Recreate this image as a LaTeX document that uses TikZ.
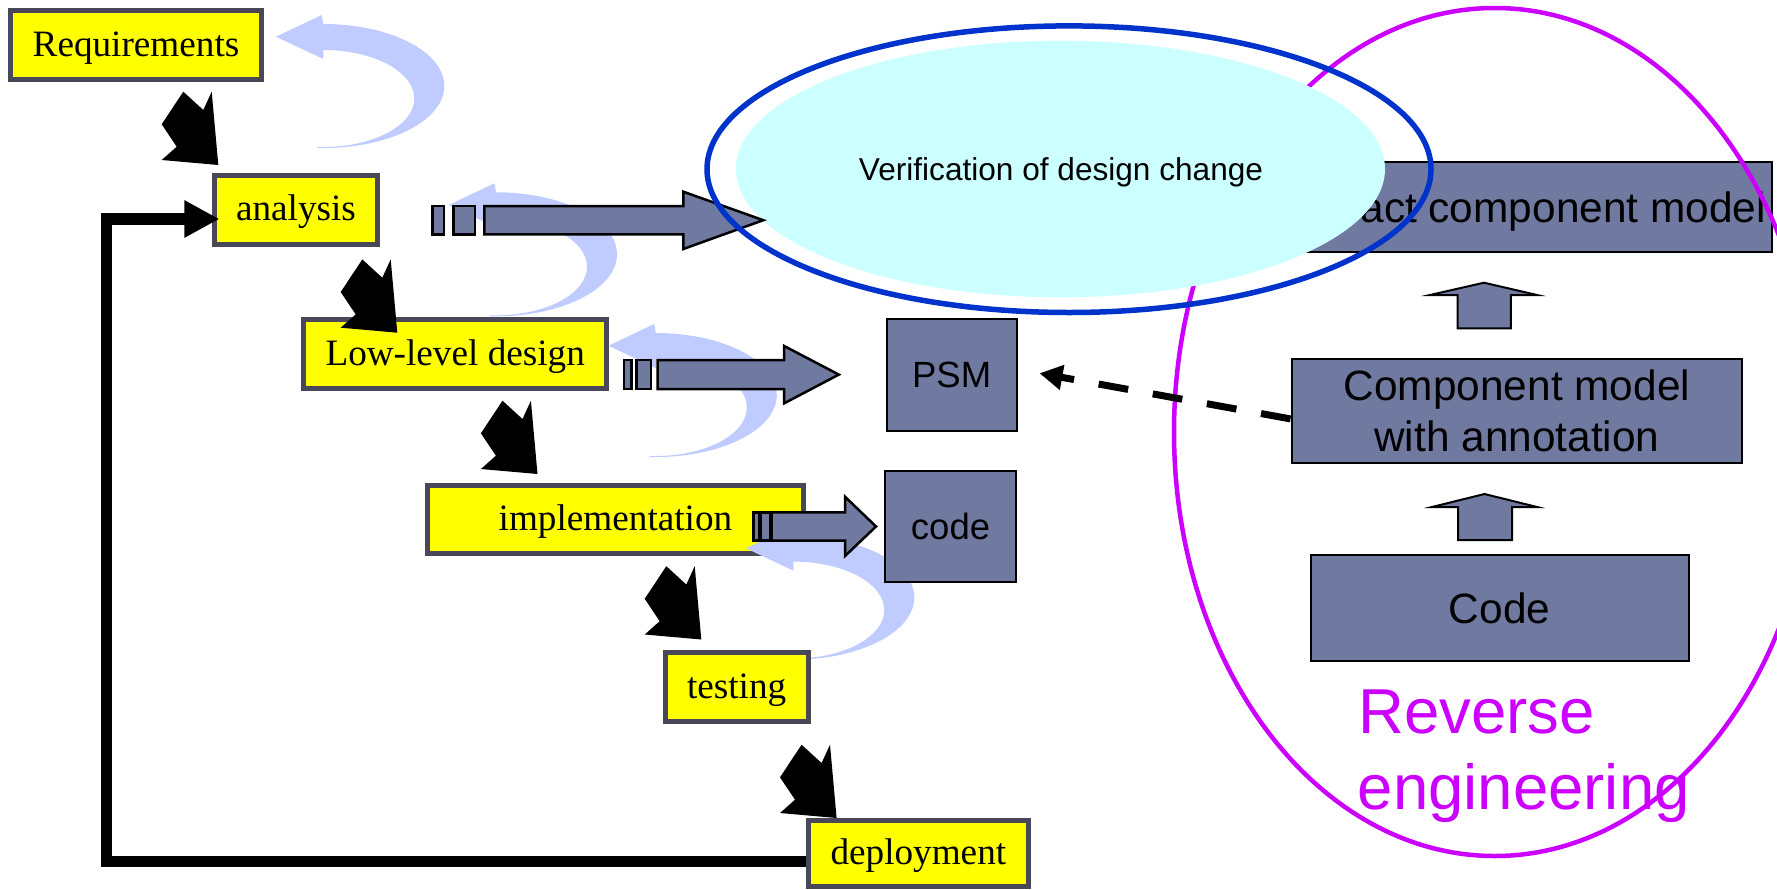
\documentclass[tikz,border=0pt]{standalone}
\usepackage{fontspec}
\setmainfont{Liberation Serif}
\newfontfamily\sansface{Liberation Sans}
\usetikzlibrary{arrows.meta}

\definecolor{boxyellow}{RGB}{255,255,0}
\definecolor{boxedge}{RGB}{72,72,88}
\definecolor{slate}{RGB}{112,122,160}
\definecolor{loopblue}{RGB}{192,204,255}
\definecolor{veriffill}{RGB}{204,255,255}
\definecolor{verifedge}{RGB}{0,51,204}
\definecolor{revmag}{RGB}{204,0,255}

\tikzset{
  stagebox/.style={draw=boxedge, line width=2.5pt, fill=boxyellow, inner sep=0pt,
    text height=15pt, text depth=4pt,
    font=\fontsize{18.6}{22}\selectfont},
  modelbox/.style={draw=black, line width=1pt, fill=slate, inner sep=0pt,
    font=\sansface\fontsize{21.2}{25.5}\selectfont},
  smallbox/.style={modelbox, font=\sansface\fontsize{18.25}{22}\selectfont},
  blockarrow/.style={draw=black, line width=1.25pt, fill=slate, line join=miter},
  uparrow/.style={draw=black, line width=1pt, fill=slate, line join=miter},
  feedback/.style={line width=5.75pt, line join=miter,
    -{Triangle[length=17.5pt,width=17.5pt]}},
  dashlink/.style={line width=3.5pt, dash pattern=on 15pt off 12.5pt,
    -{Triangle[length=11.5pt,width=12pt]}},
  zigzag/.pic={
    \fill[black] (-56.6,-40.7) -- (-35,-73.3) -- (-15,-55) -- (-6.6,-73.3)
      -- (0,0) -- (-56.6,-5) -- (-41.6,-18.3) -- cycle;
  },
  loopback/.pic={
    \fill[loopblue] (0,0) -- (45.7,-21.7) -- (47.3,-12.7)
      arc[start angle=-90, end angle=90, x radius=121, y radius=62]
      -- (41,111.3) -- (41,110.3) -- (47.3,110.3)
      arc[start angle=90, end angle=-90, x radius=91, y radius=48.5]
      -- (47.3,22.3) -- cycle;
  },
}

\begin{document}
\begin{tikzpicture}[x=0.5pt,y=-0.5pt]
\useasboundingbox (0,0) rectangle (1777,889);
\fill[white] (0,0) rectangle (1777,889);

% development stages
\node[stagebox, minimum width=125.5pt, minimum height=34.5pt] (req) at (136,45) {Requirements};
\node[stagebox, minimum width=81.9pt, minimum height=34.5pt] (ana) at (296,209.7) {analysis};
\node[stagebox, minimum width=151.7pt, minimum height=34.2pt] (lld) at (455.2,354) {Low-level design};
\node[stagebox, minimum width=188.35pt, minimum height=34.2pt] (imp) at (615.45,519.7) {implementation};

% iteration loops
\pic at (276,36.7) {loopback};
\pic at (448.7,205) {loopback};
\pic at (608.5,345.7) {loopback};
\pic at (746,548.3) {loopback};

\node[stagebox, minimum width=71.6pt, minimum height=34.3pt] (tst) at (736.6,687.2) {testing};

% artefacts
\node[smallbox, minimum width=64.85pt, minimum height=56.2pt] (psm) at (951.65,375) {PSM};
\node[smallbox, minimum width=65.25pt, minimum height=55.6pt] (code) at (950.55,526.4) {code};

% downward steps
\pic at (218.3,165) {zigzag};
\pic at (397.3,332.7) {zigzag};
\pic at (537.5,474) {zigzag};
\pic at (701.3,639.5) {zigzag};
\pic at (836.6,818) {zigzag};

\node[stagebox, minimum width=109.85pt, minimum height=33.25pt] (dep) at (918.35,853.25) {deployment};

% feedback from deployment back to analysis
\coordinate (fbcorner) at (106.7,861.7);
\coordinate (fbend) at ([shift={(7.8,9.3)}]ana.west);
\draw[feedback] ([shift={(0,8.45)}]dep.west) -- (fbcorner) |- (fbend);

% reverse engineering side
\node[modelbox, minimum width=258.15pt, minimum height=45.35pt, text height=20.5pt, text depth=4.45pt] (abs) at (1513.65,206.85) {Abstract component model};
\draw[revmag, line width=2.25pt] (1494.7,432) ellipse [x radius=320.7, y radius=424];

% verification area
\fill[veriffill] (1060.5,169) ellipse [x radius=324.5, y radius=128.3];

% transformation arrows
\filldraw[blockarrow] (432.7,206) rectangle (444,234.3);
\filldraw[blockarrow] (453.3,206) rectangle (475,234.3);
\filldraw[blockarrow] (484.3,206) -- (683.3,206) -- (683.3,191.7) -- (763.3,220.2)
  -- (683.3,249) -- (683.3,234.3) -- (484.3,234.3) -- cycle;

\filldraw[blockarrow] (624.1,360.2) rectangle (631.3,389.1);
\filldraw[blockarrow] (636.6,360.2) rectangle (650.9,389.1);
\filldraw[blockarrow] (657.6,360.2) -- (784,360.2) -- (784,345.9) -- (838.8,374.6)
  -- (784,403.4) -- (784,389.1) -- (657.6,389.1) -- cycle;

\filldraw[blockarrow] (753.3,512.3) rectangle (759.3,540.7);
\filldraw[blockarrow] (761,512.3) rectangle (770,540.7);
\filldraw[blockarrow] (771.7,512.3) -- (845,512.3) -- (845,496.7) -- (876,526.5)
  -- (845,556) -- (845,540.7) -- (771.7,540.7) -- cycle;

\draw[verifedge, line width=2.75pt] (1069,169.2) ellipse [x radius=362, y radius=143.3];
\node[font=\sansface\fontsize{15.8}{19}\selectfont, anchor=base, inner sep=0pt] (verif) at (1061,180) {Verification of design change};

% component models
\node[modelbox, minimum width=225.4pt, minimum height=52.1pt, align=center] (cma) at (1516.9,410.9) {Component model\\with annotation};
\node[modelbox, minimum width=189pt, minimum height=53.1pt] (rcode) at (1499.5,608.1) {Code};

\filldraw[uparrow] (1458,540) -- (1458,507) -- (1432,507) -- (1484.5,494) -- (1537,507)
  -- (1512,507) -- (1512,540) -- cycle;
\filldraw[uparrow] (1457.6,328.3) -- (1457.6,295) -- (1430,295) -- (1484,282.7) -- (1537,295)
  -- (1510.8,295) -- (1510.8,328.3) -- cycle;

\draw[dashlink] ([shift={(0,8)}]cma.west) -- ([shift={(22,-1.7)}]psm.east);

\node[text=revmag, font=\sansface\fontsize{31.75}{38}\selectfont, anchor=base west, inner sep=0pt] (rev1) at (1358,733) {Reverse};
\node[text=revmag, font=\sansface\fontsize{31.75}{38}\selectfont, anchor=base west, inner sep=0pt] (rev2) at (1357.5,809.4) {engineering};
\end{tikzpicture}
\end{document}
